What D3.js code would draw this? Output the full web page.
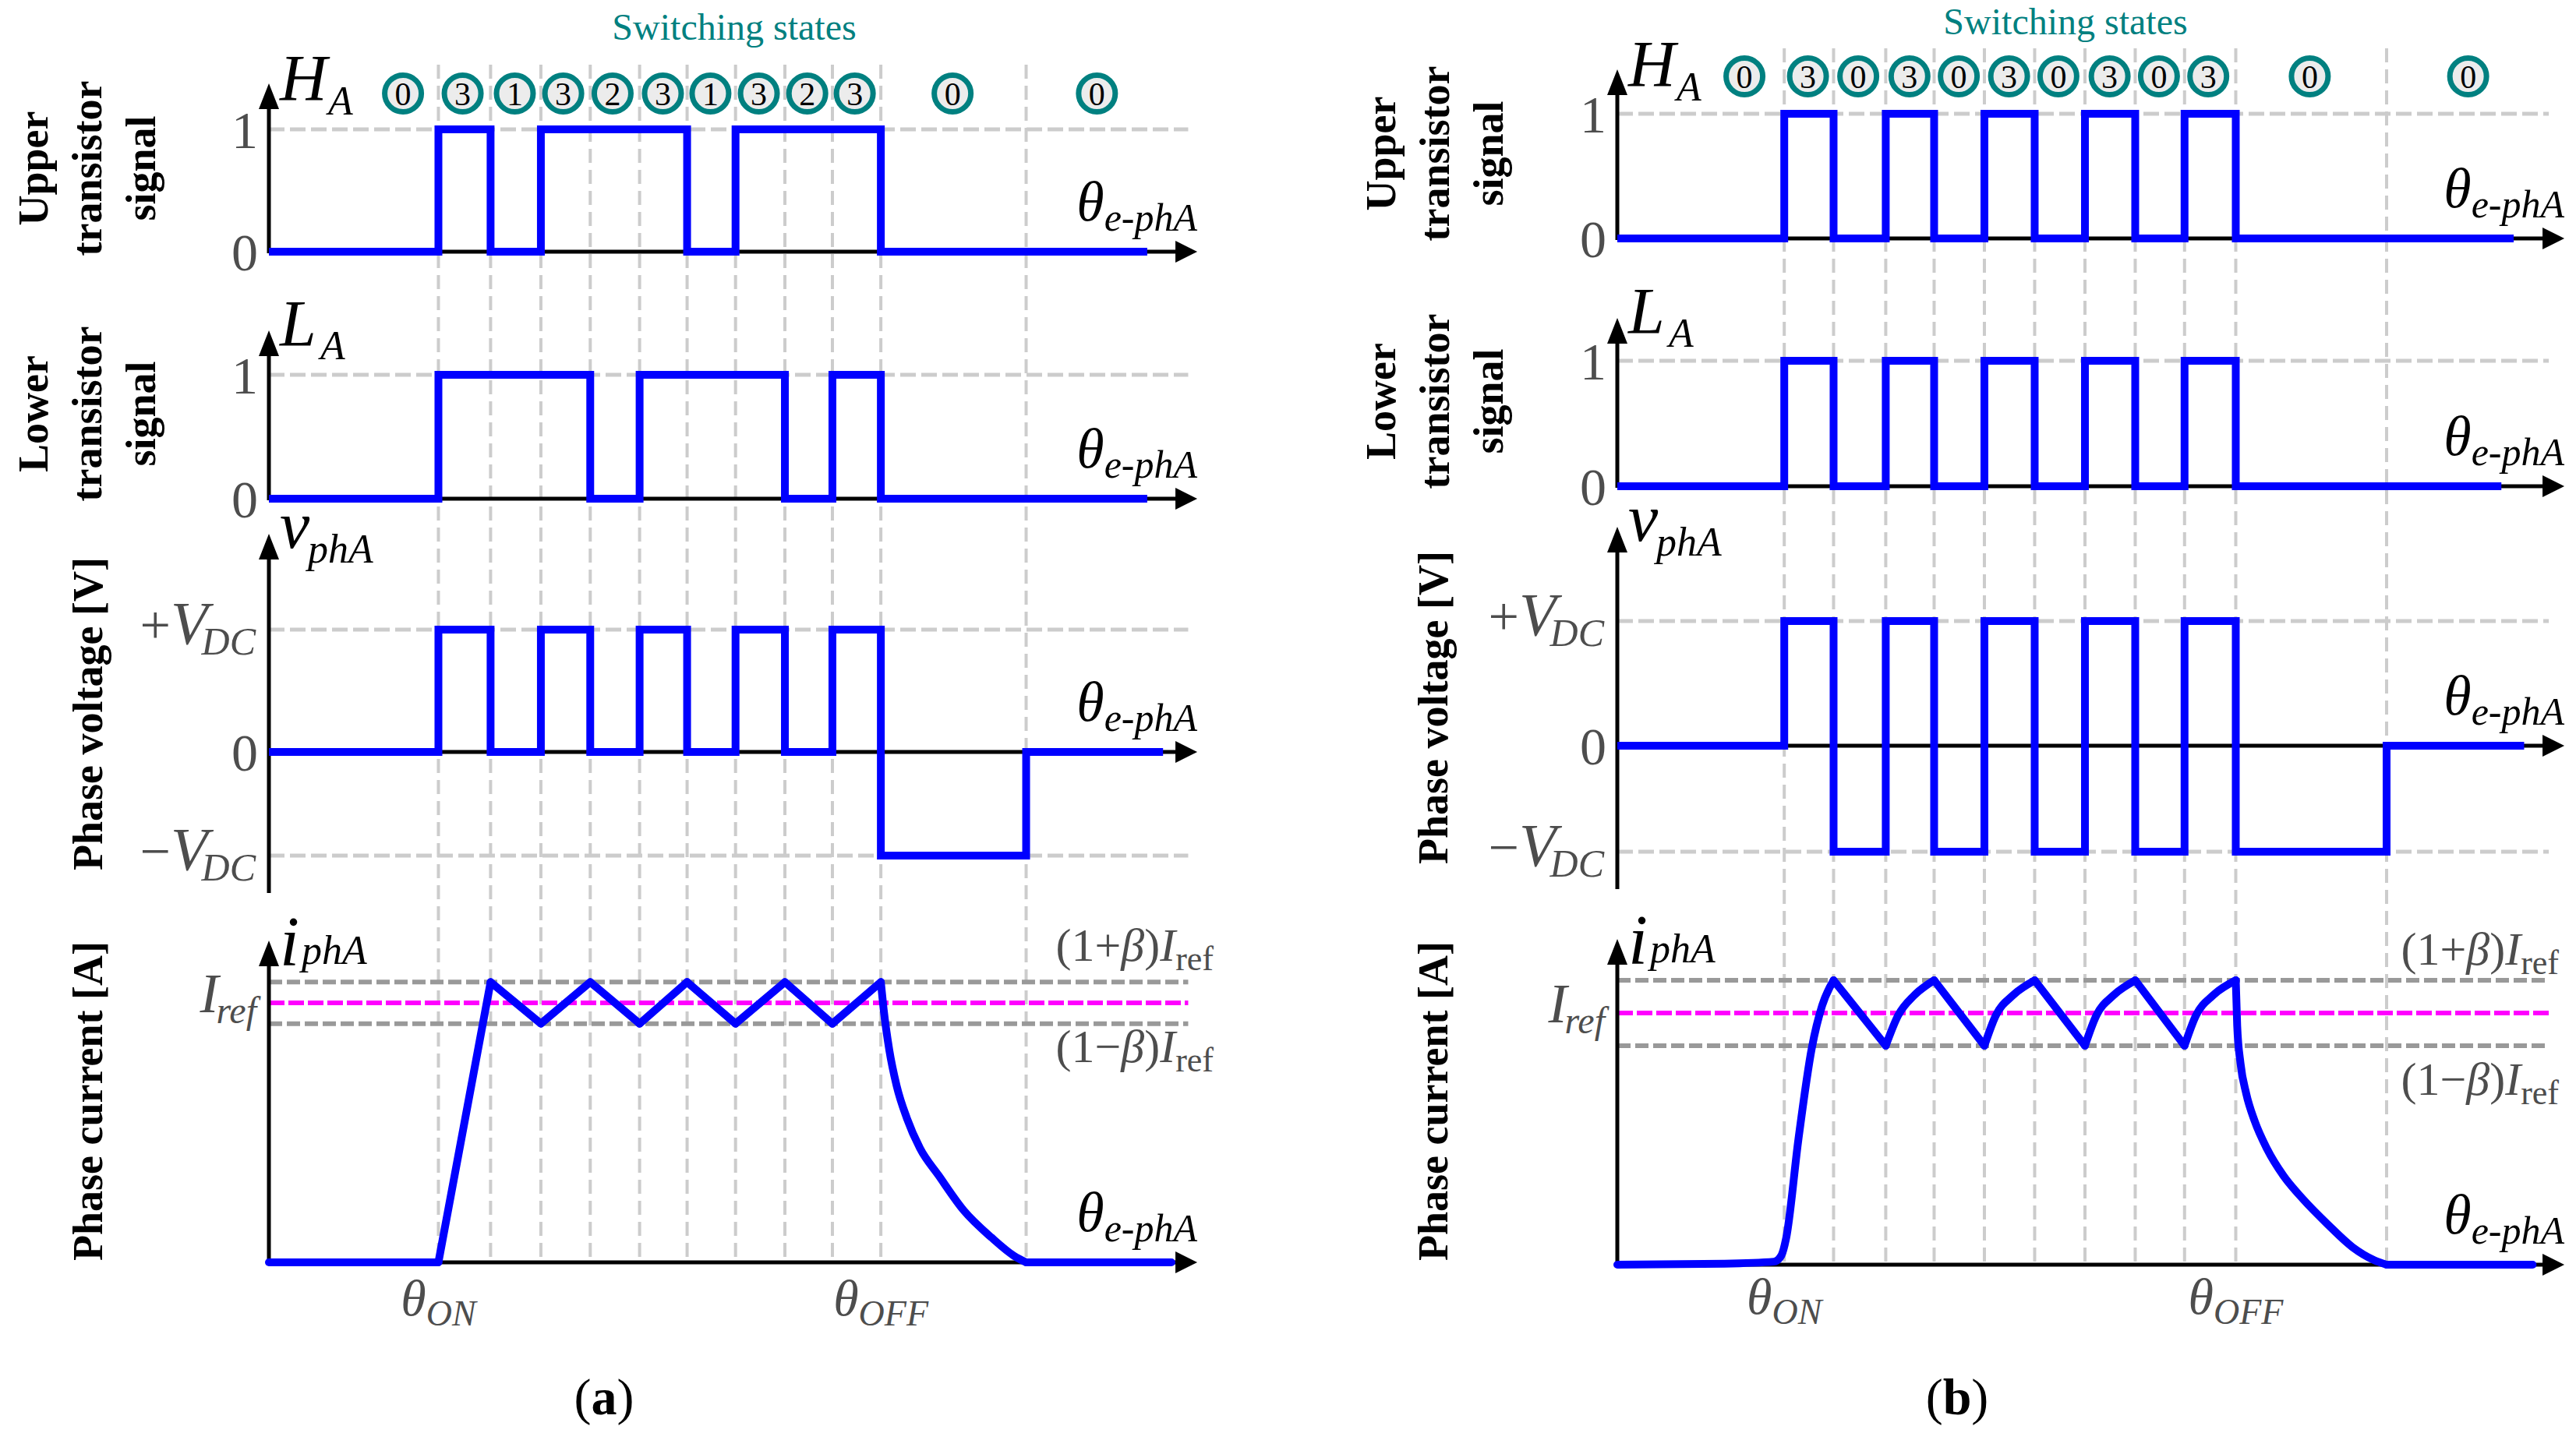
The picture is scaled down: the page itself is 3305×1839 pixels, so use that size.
<!DOCTYPE html>
<html><head><meta charset="utf-8">
<script src="https://cdn.jsdelivr.net/npm/d3@7/dist/d3.min.js"></script>
<style>
body{margin:0;background:#fff}
svg text{font-family:"Liberation Serif","Times New Roman",serif}
</style>
</head><body>
<svg id="c" width="3305" height="1839"></svg>
<script>
// ---------- DATA (angle axis in arbitrary units 0..100) ----------
const gridA = [18.2, 23.8, 29.2, 34.5, 39.8, 44.9, 50.1, 55.4, 60.5, 65.7, 81.3];
const gridB = [17.6, 22.8, 28.3, 33.4, 38.7, 44.0, 49.3, 54.6, 59.8, 65.2, 81.1];

const statesA = ["0","3","1","3","2","3","1","3","2","3","0","0"];
const statesB = ["0","3","0","3","0","3","0","3","0","3","0","0"];
const statePosA = [14.4, 20.8, 26.4, 31.6, 36.9, 42.3, 47.4, 52.6, 57.8, 62.9, 73.4, 88.9];
const statePosB = [13.4, 20.1, 25.4, 30.8, 36.0, 41.3, 46.5, 51.9, 57.1, 62.3, 73.0, 89.7];

const upperA_x = [0, 18.2, 23.8, 29.2, 44.9, 50.1, 65.7, 94.3];
const upperA_v = [0, 1, 0, 1, 0, 1, 0, 0];
const lowerA_x = [0, 18.2, 34.5, 39.8, 55.4, 60.5, 65.7, 94.3];
const lowerA_v = [0, 1, 0, 1, 0, 1, 0, 0];
const voltA_x = [0, 18.2, 23.8, 29.2, 34.5, 39.8, 44.9, 50.1, 55.4, 60.5, 65.7, 81.3, 96.0];
const voltA_v = [0, 1, 0, 1, 0, 1, 0, 1, 0, 1, -1, 0, 0];
const currA_x = [0, 18.2, 23.8, 29.2, 34.5, 39.8, 44.9, 50.1, 55.4, 60.5, 65.7,
                 66.0, 66.6, 67.4, 68.5, 69.9, 71.9, 74.6, 77.6, 80.0, 81.3, 96.9];
const currA_v = [0, 0, 1.08, 0.92, 1.08, 0.92, 1.08, 0.92, 1.08, 0.92, 1.08,
                 0.975, 0.82, 0.68, 0.555, 0.44, 0.335, 0.20, 0.095, 0.025, 0, 0];

const upperB_x = [0, 17.6, 22.8, 28.3, 33.4, 38.7, 44.0, 49.3, 54.6, 59.8, 65.2, 94.5];
const upperB_v = [0, 1, 0, 1, 0, 1, 0, 1, 0, 1, 0, 0];
const lowerB_x = [0, 17.6, 22.8, 28.3, 33.4, 38.7, 44.0, 49.3, 54.6, 59.8, 65.2, 93.2];
const lowerB_v = [0, 1, 0, 1, 0, 1, 0, 1, 0, 1, 0, 0];
const voltB_x = [0, 17.6, 22.8, 28.3, 33.4, 38.7, 44.0, 49.3, 54.6, 59.8, 65.2, 81.1, 95.6];
const voltB_v = [0, 1, -1, 1, -1, 1, -1, 1, -1, 1, -1, 0, 0];
const currB_x = [0, 11.3, 16.5, 17.3, 17.8, 19.1, 20.5, 21.6, 22.8,
                 28.3, 29.6, 31.3, 33.4, 38.7, 39.9, 41.7, 44.0,
                 49.3, 50.5, 52.3, 54.6, 59.8, 61.0, 62.8, 65.2,
                 65.35, 65.7, 66.3, 67.2, 68.5, 70.2, 72.3, 74.9, 77.5, 79.8, 81.1, 96.5];
const currB_v = [0, 0.004, 0.012, 0.037, 0.105, 0.50, 0.86, 1.03, 1.13,
                 0.87, 0.99, 1.07, 1.13, 0.87, 0.99, 1.07, 1.13,
                 0.87, 0.99, 1.07, 1.13, 0.87, 0.99, 1.07, 1.13,
                 0.95, 0.80, 0.68, 0.57, 0.46, 0.355, 0.26, 0.16, 0.07, 0.018, 0, 0];

const betaA = 0.08, betaB = 0.13;
const levelTicks = [0, 1];

// ---------- LAYOUT ----------
const figs = [
  {name:"(a)", x0:345, x1:1540, tipU:99.67, gridEnd:98.7, vTop:83, vBot:1620,
   H:[323,166], Htip:107, L:[640,481], Ltip:424, V:[1098,965,808], Vtip:685, Vbot:1146,
   I:[1620,1287], Itip:1207, circleY:120, titleX:942, titleY:51,
   cols:[61,130,199], upMid:216, loMid:531, vMid:916, iMid:1413, vCol:131,
   betaX:1557, betaUpY:1233, betaLoY:1363, thetaY:1688, capX:775,
   grid:gridA, states:statesA, statePos:statePosA, beta:betaA,
   up:[upperA_x,upperA_v], lo:[lowerA_x,lowerA_v], volt:[voltA_x,voltA_v], cur:[currA_x,currA_v]},
  {name:"(b)", x0:2075, x1:3292, tipU:99.84, gridEnd:98.2, vTop:62, vBot:1623,
   H:[306,146], Htip:89, L:[624,463], Ltip:408, V:[1093,957,797], Vtip:676, Vbot:1141,
   I:[1623,1300], Itip:1205, circleY:98, titleX:2650, titleY:44,
   cols:[1790,1859,1928], upMid:197, loMid:515, vMid:908, iMid:1413, vCol:1857,
   betaX:3283, betaUpY:1238, betaLoY:1405, thetaY:1686, capX:2511,
   grid:gridB, states:statesB, statePos:statePosB, beta:betaB,
   up:[upperB_x,upperB_v], lo:[lowerB_x,lowerB_v], volt:[voltB_x,voltB_v], cur:[currB_x,currB_v]}
];

const BLUE="#0000ff", TEAL="#008080", GRID="#cccccc", GRAY="#4d4d4d";
const svg = d3.select("#c");
svg.append("rect").attr("width",3305).attr("height",1839).attr("fill","#fff");

function zipPts(xs, vs){ return xs.map((d,i)=>[d, vs[i]]); }
function monoRuns(pts){
  const out=[]; let cur=[pts[0]]; let dir=null;
  for(let i=1;i<pts.length;i++){
    const d=Math.sign(pts[i][1]-pts[i-1][1]);
    if(dir!==null && d!==dir){ out.push(cur); cur=[pts[i-1]]; }
    cur.push(pts[i]); dir=d;
  }
  out.push(cur); return out;
}

function draw(f){
  const g = svg.append("g");
  const x = d3.scaleLinear().domain([0,100]).range([f.x0,f.x1]);
  const yH = d3.scaleLinear().domain([0,1]).range(f.H);
  const yL = d3.scaleLinear().domain([0,1]).range(f.L);
  const yV = d3.scaleLinear().domain([-1,0,1]).range(f.V);
  const yI = d3.scaleLinear().domain([0,1]).range(f.I);
  const ax = x(0), tipX = x(f.tipU);

  // vertical dashed grid
  g.append("g").selectAll("line").data(f.grid).join("line")
    .attr("x1",d=>x(d)).attr("x2",d=>x(d)).attr("y1",f.vTop).attr("y2",f.vBot)
    .attr("stroke",GRID).attr("stroke-width",4).attr("stroke-dasharray","18,9");

  // horizontal dashed grids
  const hl = (y, color, w, dash) => g.append("line").attr("x1",ax).attr("x2",x(f.gridEnd))
      .attr("y1",y).attr("y2",y).attr("stroke",color).attr("stroke-width",w).attr("stroke-dasharray",dash);
  hl(yH(1), GRID, 5, "20,7");
  hl(yL(1), GRID, 5, "20,7");
  hl(yV(1), GRID, 5, "20,7");
  hl(yV(-1), GRID, 5, "20,7");
  hl(yI(1+f.beta), "#999999", 6, "17,6");
  hl(yI(1-f.beta), "#999999", 6, "17,6");
  hl(yI(1), "#ff00ff", 6, "20,5");

  // axes with arrows
  const axesG = g.append("g");
  function yArrow(tip, bottom){
    axesG.append("line").attr("x1",ax).attr("x2",ax).attr("y1",tip+25).attr("y2",bottom)
      .attr("stroke","#000").attr("stroke-width",5);
    axesG.append("path").attr("d",`M${ax},${tip} L${ax-13},${tip+33} L${ax+13},${tip+33} Z`).attr("fill","#000");
  }
  function xArrow(y){
    axesG.append("line").attr("x1",ax).attr("x2",tipX-20).attr("y1",y).attr("y2",y)
      .attr("stroke","#000").attr("stroke-width",5);
    axesG.append("path").attr("d",`M${tipX},${y} L${tipX-28},${y-14} L${tipX-28},${y+14} Z`).attr("fill","#000");
  }
  yArrow(f.Htip, yH(0)+2); xArrow(yH(0));
  yArrow(f.Ltip, yL(0)+2); xArrow(yL(0));
  yArrow(f.Vtip, f.Vbot); xArrow(yV(0));
  yArrow(f.Itip, yI(0)+2); xArrow(yI(0));

  // waveforms
  const step = (ys) => d3.line().x(d=>x(d[0])).y(d=>ys(d[1])).curve(d3.curveStepAfter);
  const wave = (d, gen) => g.append("path").attr("d",gen(d)).attr("fill","none")
      .attr("stroke",BLUE).attr("stroke-width",10).attr("stroke-linejoin","miter").attr("stroke-linecap","butt");
  wave(zipPts(...f.up), step(yH));
  wave(zipPts(...f.lo), step(yL));
  wave(zipPts(...f.volt), step(yV));
  const cLine = d3.line().x(d=>x(d[0])).y(d=>yI(d[1])).curve(d3.curveMonotoneX);
  monoRuns(zipPts(...f.cur)).forEach(r=>{
    g.append("path").attr("d",cLine(r)).attr("fill","none").attr("stroke",BLUE)
      .attr("stroke-width",10).attr("stroke-linecap","round").attr("stroke-linejoin","round");
  });

  // tick labels (0 / 1) via d3 axes
  function ticks(scale, vals){
    const a = g.append("g").attr("transform",`translate(${ax},0)`)
      .call(d3.axisLeft(scale).tickValues(vals).tickSize(0).tickPadding(14).tickFormat(d3.format("d")));
    a.select(".domain").remove();
    a.selectAll("text").attr("font-size",68).attr("fill",GRAY).attr("dy","0.34em");
  }
  ticks(yH, levelTicks); ticks(yL, levelTicks); ticks(yV, [0]);

  // ±VDC labels
  function vdc(level, sign){
    const t = g.append("text").attr("x",ax-17).attr("y",yV(level)+18).attr("text-anchor","end").attr("fill",GRAY);
    t.append("tspan").attr("font-size",70).text(sign);
    t.append("tspan").attr("font-size",78).attr("font-style","italic").text("V");
    t.append("tspan").attr("font-size",50).attr("font-style","italic").attr("dx",-8).attr("dy",14).text("DC");
  }
  vdc(1, "+"); vdc(-1, "\u2212");

  // Iref label
  const ir = g.append("text").attr("x",ax-16).attr("y",yI(1)+12).attr("text-anchor","end").attr("fill",GRAY);
  ir.append("tspan").attr("font-size",72).attr("font-style","italic").text("I");
  ir.append("tspan").attr("font-size",48).attr("font-style","italic").attr("dx",-3).attr("dy",14).text("ref");

  // (1±β)Iref labels
  function betaLbl(y, sign){
    const t = g.append("text").attr("x",f.betaX).attr("y",y).attr("text-anchor","end").attr("fill",GRAY).attr("font-size",60);
    t.append("tspan").text("(1"+sign);
    t.append("tspan").attr("font-style","italic").text("\u03B2");
    t.append("tspan").text(")");
    t.append("tspan").attr("font-style","italic").text("I");
    t.append("tspan").attr("font-size",44).attr("dy",12).text("ref");
  }
  betaLbl(f.betaUpY, "+"); betaLbl(f.betaLoY, "\u2212");

  // axis names (italic)
  function axName(main, sub, mx, my, sx, sy, mfs){
    g.append("text").attr("x",mx).attr("y",my).attr("font-size",mfs).attr("font-style","italic").attr("fill","#000").text(main);
    g.append("text").attr("x",sx).attr("y",sy).attr("font-size",52).attr("font-style","italic").attr("fill","#000").text(sub);
  }
  axName("H","A", ax+14, f.Htip+22, ax+76, f.Htip+40, 84);
  axName("L","A", ax+14, f.Ltip+20, ax+66, f.Ltip+37, 84);
  axName("v","phA", ax+14, f.Vtip+18, ax+50, f.Vtip+37, 86);
  axName("i","phA", ax+14, f.Itip+32, ax+42, f.Itip+30, 90);

  // theta_e-phA labels at arrow tips
  function thetaLbl(y){
    const t = g.append("text").attr("x",tipX).attr("y",y-40).attr("text-anchor","end").attr("fill","#000").attr("font-style","italic");
    t.append("tspan").attr("font-size",72).text("\u03B8");
    t.append("tspan").attr("font-size",50).attr("dy",13).text("e-phA");
  }
  thetaLbl(yH(0)); thetaLbl(yL(0)); thetaLbl(yV(0)); thetaLbl(yI(0));

  // theta ON / OFF
  function thetaSub(xv, sub){
    const t = g.append("text").attr("x",x(xv)).attr("y",f.thetaY).attr("text-anchor","middle").attr("fill",GRAY).attr("font-style","italic");
    t.append("tspan").attr("font-size",66).text("\u03B8");
    t.append("tspan").attr("font-size",46).attr("dy",13).text(sub);
  }
  thetaSub(f.grid[0], "ON"); thetaSub(f.grid[9], "OFF");

  // y axis titles (rotated, bold)
  function vlabel(lines, cols, mid){
    lines.forEach((s,i)=>{
      g.append("text").attr("transform",`translate(${cols[i]},${mid}) rotate(-90)`)
        .attr("text-anchor","middle").attr("font-weight","bold").attr("font-size",54).attr("fill","#000").text(s);
    });
  }
  vlabel(["Upper","transistor","signal"], f.cols, f.upMid);
  vlabel(["Lower","transistor","signal"], f.cols, f.loMid);
  vlabel(["Phase voltage [V]"], [f.vCol], f.vMid);
  vlabel(["Phase current [A]"], [f.vCol], f.iMid);

  // switching states
  g.append("text").attr("x",f.titleX).attr("y",f.titleY).attr("text-anchor","middle")
    .attr("font-size",48).attr("fill",TEAL).text("Switching states");
  const cg = g.append("g").selectAll("g").data(f.states.map((s,i)=>({s, p:f.statePos[i]}))).join("g")
    .attr("transform",d=>`translate(${x(d.p)},${f.circleY})`);
  cg.append("circle").attr("r",23.5).attr("fill","#ececec").attr("stroke",TEAL).attr("stroke-width",7);
  cg.append("text").attr("text-anchor","middle").attr("dy","0.35em").attr("font-size",42).attr("fill","#000").text(d=>d.s);

  // caption
  const cap = g.append("text").attr("x",f.capX).attr("y",1815).attr("text-anchor","middle").attr("font-size",66).attr("fill","#000");
  cap.append("tspan").text("(");
  cap.append("tspan").attr("font-weight","bold").text(f.name.slice(1,2));
  cap.append("tspan").text(")");
}
figs.forEach(draw);
</script>
</body></html>
